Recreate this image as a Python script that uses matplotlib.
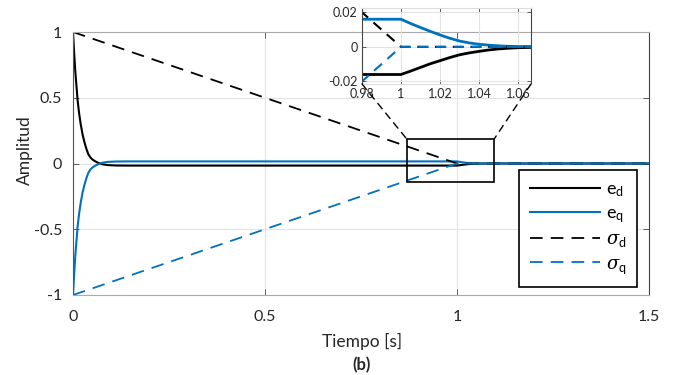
import matplotlib
matplotlib.use("Agg")
import matplotlib.pyplot as plt
from matplotlib.patches import Rectangle, ConnectionPatch

plt.rcParams['font.family'] = ['Lato', 'DejaVu Sans']
plt.rcParams['mathtext.fontset'] = 'custom'
plt.rcParams['mathtext.rm'] = 'Lato'
plt.rcParams['mathtext.it'] = 'DejaVu Serif:italic'

# ---- data ----
t = [0, 0.003, 0.006, 0.009, 0.012, 0.016, 0.02, 0.025, 0.03, 0.035, 0.04, 0.045,
     0.05, 0.057, 0.065, 0.075, 0.09, 0.11, 0.14, 1.0, 1.005, 1.01, 1.015, 1.02,
     1.025, 1.03, 1.035, 1.04, 1.045, 1.05, 1.055, 1.06, 1.07, 1.1, 1.5]
e_d = [1.0, 0.84, 0.70, 0.59, 0.48, 0.38, 0.30, 0.22, 0.16, 0.11, 0.071, 0.047,
       0.032, 0.018, 0.006, -0.005, -0.012, -0.015, -0.016, -0.016, -0.0140, -0.0119,
       -0.0098, -0.0080, -0.0062, -0.0046, -0.0035, -0.0026, -0.0018, -0.0012,
       -0.0008, -0.0005, -0.0002, 0.0, 0.0]
e_q = [-1.0, -0.84, -0.70, -0.59, -0.48, -0.38, -0.30, -0.22, -0.16, -0.11, -0.071,
       -0.047, -0.032, -0.018, -0.006, 0.005, 0.012, 0.015, 0.016, 0.016, 0.0135,
       0.0112, 0.0090, 0.0069, 0.0050, 0.0034, 0.0023, 0.0015, 0.0010, 0.0006,
       0.0003, 0.0002, 0.0001, 0.0, 0.0]
t_sigma = [0, 1.0, 1.5]
sigma_d = [1.0, 0.0, 0.0]
sigma_q = [-1.0, 0.0, 0.0]

x_ticks = [0, 0.5, 1, 1.5]
x_ticklabels = ['0', '0.5', '1', '1.5']
y_ticks = [-1, -0.5, 0, 0.5, 1]
y_ticklabels = ['-1', '-0.5', '0', '0.5', '1']
inset_x_ticks = [0.98, 1.0, 1.02, 1.04, 1.06]
inset_x_ticklabels = ['0.98', '1', '1.02', '1.04', '1.06']
inset_y_ticks = [-0.02, 0, 0.02]
inset_y_ticklabels = ['-0.02', '0', '0.02']
zoom_box = (0.870, -0.137, 1.096, 0.183)  # x0, y0, x1, y1

BLUE = '#0072BD'
W, H = 690, 375
fig = plt.figure(figsize=(W / 100, H / 100), dpi=100)

def fr(l, t_, r, b):
    return [l / W, 1 - b / H, (r - l) / W, (b - t_) / H]

ax = fig.add_axes(fr(73, 32, 649, 295))
dash = (7, 4.5)
ax.plot(t, e_d, color='black', lw=1.5, label=r'$\mathregular{e_d}$')
ax.plot(t, e_q, color=BLUE, lw=1.5, label=r'$\mathregular{e_q}$')
ax.plot(t_sigma, sigma_d, color='black', lw=1.3, dashes=dash, label=r'$\sigma_{\mathregular{d}}$')
ax.plot(t_sigma, sigma_q, color=BLUE, lw=1.3, dashes=dash, label=r'$\sigma_{\mathregular{q}}$')
ax.set_xlim(0, 1.5)
ax.set_ylim(-1, 1)
ax.set_xticks(x_ticks)
ax.set_xticklabels(x_ticklabels)
ax.set_yticks(y_ticks)
ax.set_yticklabels(y_ticklabels)
ax.grid(True, color='#e3e3e3', lw=0.8)
ax.set_axisbelow(True)
ax.tick_params(direction='in', length=4, width=0.6, color='#444444',
               labelsize=11.5, labelcolor='#262626', top=True, right=True, pad=8)
ax.tick_params(axis='x', pad=11)
for side, c in [('left', '#555555'), ('right', '#444444'), ('top', '#aaaaaa'), ('bottom', '#aaaaaa')]:
    ax.spines[side].set_color(c)
    ax.spines[side].set_linewidth(0.8)

x0, y0, x1, y1 = zoom_box
ax.add_patch(Rectangle((x0, y0), x1 - x0, y1 - y0, fill=False, ec='black', lw=1.2, zorder=5))

fig.text(25 / W, 1 - 150 / H, 'Amplitud', rotation=90, ha='center', va='center',
         fontsize=12.5, color='#262626')
fig.text(362 / W, 1 - 341 / H, 'Tiempo [s]', ha='center', va='center', fontsize=12.5,
         color='#262626')
fig.text(362 / W, 1 - 365 / H, '(b)', ha='center', va='center', fontsize=12,
         fontweight='bold', color='#262626')

leg = ax.legend(loc='upper left', bbox_to_anchor=(519 / W, 1 - 170 / H),
                bbox_transform=fig.transFigure, fontsize=13, handlelength=3.9,
                labelspacing=0.36, borderpad=0.6, handletextpad=0.3,
                borderaxespad=0, fancybox=False, framealpha=1, edgecolor='black')
leg.get_frame().set_linewidth(1.2)

# ---- inset ----
axi = fig.add_axes(fr(362, 8, 531, 84))
axi.set_facecolor('none')
axi.plot(t, e_d, color='black', lw=2.0)
axi.plot(t, e_q, color=BLUE, lw=2.0)
axi.plot(t_sigma, sigma_d, color='black', lw=1.5, dashes=(5, 3.5))
axi.plot(t_sigma, sigma_q, color=BLUE, lw=1.5, dashes=(5, 3.5))
axi.set_xlim(0.98, 1.0667)
axi.set_ylim(-0.0215, 0.0225)
axi.set_xticks(inset_x_ticks)
axi.set_xticklabels(inset_x_ticklabels)
axi.set_yticks(inset_y_ticks)
axi.set_yticklabels(inset_y_ticklabels)
axi.grid(True, color='#e3e3e3', lw=0.8)
axi.tick_params(direction='in', length=3, width=0.6, color='#444444',
                labelsize=9, labelcolor='#262626', top=True, right=True, pad=3)
for side, c in [('left', '#444444'), ('right', '#444444'), ('top', '#dddddd'), ('bottom', '#dddddd')]:
    axi.spines[side].set_color(c)
    axi.spines[side].set_linewidth(0.8)

for (xa, ya) in [(0.0, 0.0), (1.0, 0.0)]:
    xb = x0 if xa == 0.0 else x1
    con = ConnectionPatch(xyA=(xa, ya), coordsA=axi.transAxes, xyB=(xb, y1), coordsB=ax.transData,
                          color='black', lw=1.0, linestyle=(0, (5, 4)))
    fig.add_artist(con)

fig.savefig('out.png', dpi=100)
